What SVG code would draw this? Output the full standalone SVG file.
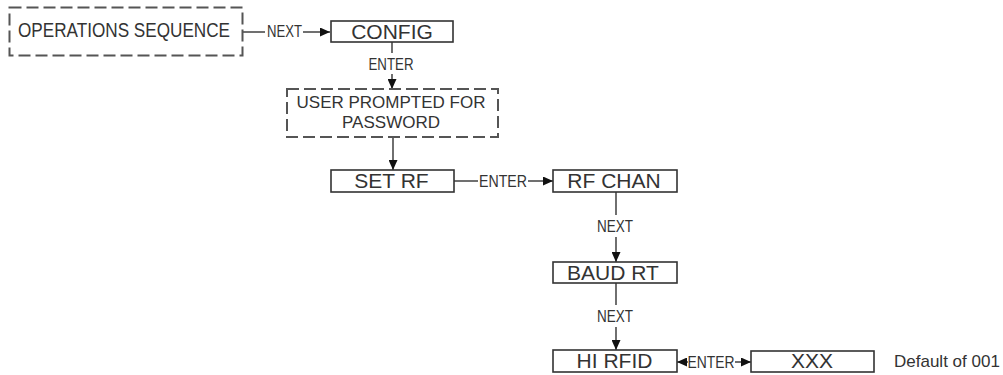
<svg xmlns="http://www.w3.org/2000/svg" width="1003" height="375" viewBox="0 0 1003 375">
<style>
.box{fill:#fff;stroke:#333;stroke-width:1.6}
.dash{fill:#fff;stroke:#555;stroke-width:2;stroke-dasharray:12 5}
.t{font-family:"Liberation Sans",Arial,sans-serif;fill:#333;text-anchor:middle}
.big{font-size:21px}
.mid{font-size:17px}
.lbl{font-size:16.5px}
.ln{stroke:#333;stroke-width:1.4;fill:none}
</style>
<defs>
<marker id="ah" markerUnits="userSpaceOnUse" markerWidth="11" markerHeight="9" refX="10" refY="4.5" orient="auto">
<path d="M0,0 L10,4.5 L0,9 Z" fill="#111"/>
</marker>
<marker id="ahs" markerUnits="userSpaceOnUse" markerWidth="11" markerHeight="9" refX="10" refY="4.5" orient="auto-start-reverse">
<path d="M0,0 L10,4.5 L0,9 Z" fill="#111"/>
</marker>
</defs>
<g id="connectors">
<line class="ln" x1="242" y1="32" x2="265" y2="32"/>
<text class="t lbl" x="284.5" y="37" textLength="35" lengthAdjust="spacingAndGlyphs">NEXT</text>
<line class="ln" x1="303" y1="32" x2="330" y2="32" marker-end="url(#ah)"/>
<line class="ln" x1="392" y1="42" x2="392" y2="53"/>
<text class="t lbl" x="391" y="70" textLength="45" lengthAdjust="spacingAndGlyphs">ENTER</text>
<line class="ln" x1="392" y1="74" x2="392" y2="89" marker-end="url(#ah)"/>
<line class="ln" x1="393" y1="137" x2="393" y2="170" marker-end="url(#ah)"/>
<line class="ln" x1="454" y1="181" x2="478" y2="181"/>
<text class="t lbl" x="503" y="186.5" textLength="48" lengthAdjust="spacingAndGlyphs">ENTER</text>
<line class="ln" x1="528" y1="181" x2="553" y2="181" marker-end="url(#ah)"/>
<line class="ln" x1="616" y1="192" x2="616" y2="215"/>
<text class="t lbl" x="615" y="232" textLength="36" lengthAdjust="spacingAndGlyphs">NEXT</text>
<line class="ln" x1="616" y1="237" x2="616" y2="262" marker-end="url(#ah)"/>
<line class="ln" x1="616" y1="283" x2="616" y2="305"/>
<text class="t lbl" x="615" y="322" textLength="36" lengthAdjust="spacingAndGlyphs">NEXT</text>
<line class="ln" x1="616" y1="327" x2="616" y2="350" marker-end="url(#ah)"/>
<line class="ln" x1="677" y1="362" x2="688" y2="362" marker-start="url(#ahs)"/>
<text class="t lbl" x="711" y="368" textLength="47" lengthAdjust="spacingAndGlyphs">ENTER</text>
<line class="ln" x1="735" y1="362" x2="751" y2="362" marker-end="url(#ah)"/>
</g>
<g id="ops">
<rect class="dash" x="9.5" y="7.5" width="233" height="48"/>
<text class="t" x="124" y="37" style="font-size:19.5px" textLength="212" lengthAdjust="spacingAndGlyphs">OPERATIONS SEQUENCE</text>
</g>
<g id="config">
<rect class="box" x="331" y="21" width="122" height="21"/>
<text class="t big" x="392" y="38.5">CONFIG</text>
</g>
<g id="password">
<rect class="dash" x="287" y="89" width="211" height="48"/>
<text class="t mid" x="391" y="107.5">USER PROMPTED FOR</text>
<text class="t mid" x="391" y="127.5">PASSWORD</text>
</g>
<g id="setrf">
<rect class="box" x="331" y="170" width="123" height="22"/>
<text class="t big" x="391.5" y="188">SET RF</text>
</g>
<g id="rfchan">
<rect class="box" x="553" y="170" width="124" height="22"/>
<text class="t big" x="614" y="188">RF CHAN</text>
</g>
<g id="baudrt">
<rect class="box" x="553" y="262" width="124" height="21"/>
<text class="t big" x="613" y="279.5">BAUD RT</text>
</g>
<g id="hirfid">
<rect class="box" x="553" y="350" width="124" height="22"/>
<text class="t big" x="614.5" y="368">HI RFID</text>
</g>
<g id="xxx">
<rect class="box" x="751" y="351" width="123" height="21"/>
<text class="t big" x="812" y="368">XXX</text>
</g>
<g id="default">
<text class="t mid" x="894" y="367" style="text-anchor:start">Default of 001</text>
</g>
</svg>
